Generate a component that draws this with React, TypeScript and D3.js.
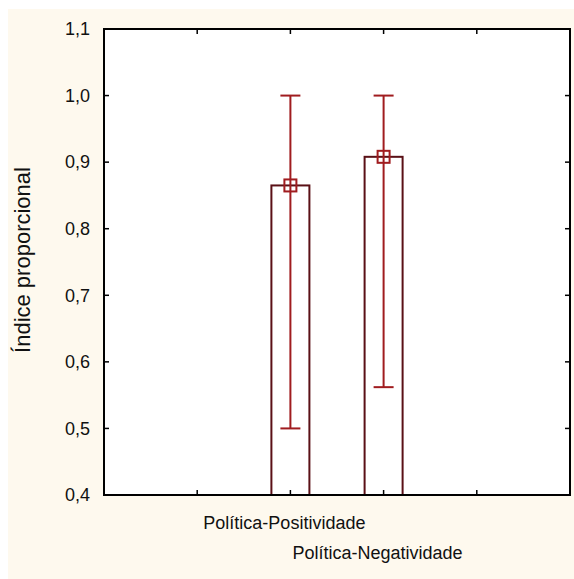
import React, { useEffect, useRef } from "react";
import * as d3 from "d3";

const categories = ["Política-Positividade", "Política-Negatividade"];
const positions = [2, 3];
const means = [0.865, 0.908];
const upper = [1.0, 1.0];
const lower = [0.5, 0.562];
const yTicks = [0.4, 0.5, 0.6, 0.7, 0.8, 0.9, 1.0, 1.1];
const xTicks = [1, 2, 3, 4];

const App = () => {
  const chart = useRef<SVGSVGElement>(null);

  useEffect(() => {
    // page-sized svg, fixed at the top-left corner
    const width = 574;
    const height = 579;
    const left = 104;
    const right = 570;
    const top = 29;
    const bottom = 495;
    const font = "'Liberation Sans', Arial, sans-serif";

    const svg = d3.select(chart.current);
    svg.selectAll("*").remove();
    svg.attr("width", width).attr("height", height);

    const x = d3.scaleLinear().domain([0, 5]).range([left, right]);
    const y = d3.scaleLinear().domain([0.4, 1.1]).range([bottom, top]);
    const fmt = (d: number) => d3.format(".1f")(d).replace(".", ",");

    svg.append("rect").attr("width", width).attr("height", height).attr("fill", "white");
    svg
      .append("rect")
      .attr("x", 8)
      .attr("y", 9)
      .attr("width", width - 8)
      .attr("height", height - 9)
      .attr("fill", "#fef9ee");
    svg
      .append("rect")
      .attr("x", left)
      .attr("y", top)
      .attr("width", right - left)
      .attr("height", bottom - top)
      .attr("fill", "white");

    const data = categories.map((c, i) => ({
      name: c,
      pos: positions[i],
      mean: means[i],
      hi: upper[i],
      lo: lower[i],
    }));

    const barW = 38;
    svg
      .append("g")
      .selectAll("rect")
      .data(data)
      .join("rect")
      .attr("x", (d) => x(d.pos) - barW / 2)
      .attr("y", (d) => y(d.mean))
      .attr("width", barW)
      .attr("height", (d) => bottom - y(d.mean))
      .attr("fill", "white")
      .attr("stroke", "#5a1016")
      .attr("stroke-width", 2);

    const err = svg.append("g").attr("stroke", "#a01c1f").attr("stroke-width", 2).attr("fill", "none");
    err
      .selectAll("line.stem")
      .data(data)
      .join("line")
      .attr("class", "stem")
      .attr("x1", (d) => x(d.pos))
      .attr("x2", (d) => x(d.pos))
      .attr("y1", (d) => y(d.hi))
      .attr("y2", (d) => y(d.lo));
    const capW = 20;
    ["hi", "lo"].forEach((k) => {
      err
        .selectAll("line.cap-" + k)
        .data(data)
        .join("line")
        .attr("class", "cap-" + k)
        .attr("x1", (d) => x(d.pos) - capW / 2)
        .attr("x2", (d) => x(d.pos) + capW / 2)
        .attr("y1", (d: any) => y(d[k]))
        .attr("y2", (d: any) => y(d[k]));
    });
    const m = 12;
    err
      .selectAll("rect")
      .data(data)
      .join("rect")
      .attr("x", (d) => x(d.pos) - m / 2)
      .attr("y", (d) => y(d.mean) - m / 2)
      .attr("width", m)
      .attr("height", m);

    // frame + ticks
    const axes = svg.append("g").attr("stroke", "black");
    axes
      .append("rect")
      .attr("x", left)
      .attr("y", top)
      .attr("width", right - left)
      .attr("height", bottom - top)
      .attr("fill", "none")
      .attr("stroke-width", 2);
    const tl = 5;
    axes
      .selectAll("line.yl")
      .data(yTicks)
      .join("line")
      .attr("class", "yl")
      .attr("x1", left)
      .attr("x2", left + tl)
      .attr("y1", (d) => y(d))
      .attr("y2", (d) => y(d))
      .attr("stroke-width", 1.5);
    axes
      .selectAll("line.yr")
      .data(yTicks)
      .join("line")
      .attr("class", "yr")
      .attr("x1", right)
      .attr("x2", right - tl)
      .attr("y1", (d) => y(d))
      .attr("y2", (d) => y(d))
      .attr("stroke-width", 1.5);
    axes
      .selectAll("line.xb")
      .data(xTicks)
      .join("line")
      .attr("class", "xb")
      .attr("x1", (d) => x(d))
      .attr("x2", (d) => x(d))
      .attr("y1", bottom)
      .attr("y2", bottom - tl)
      .attr("stroke-width", 1.5);
    axes
      .selectAll("line.xt")
      .data(xTicks)
      .join("line")
      .attr("class", "xt")
      .attr("x1", (d) => x(d))
      .attr("x2", (d) => x(d))
      .attr("y1", top)
      .attr("y2", top + tl)
      .attr("stroke-width", 1.5);

    svg
      .append("g")
      .selectAll("text")
      .data(yTicks)
      .join("text")
      .attr("x", left - 14)
      .attr("y", (d) => y(d))
      .attr("dy", "0.35em")
      .attr("text-anchor", "end")
      .attr("font-family", font)
      .attr("font-size", 18)
      .attr("fill", "#111")
      .text((d) => fmt(d));

    svg
      .append("g")
      .selectAll("text")
      .data(data)
      .join("text")
      .attr("x", (d) => x(d.pos) - 6)
      .attr("y", (d, i) => 529 + i * 30)
      .attr("text-anchor", "middle")
      .attr("font-family", font)
      .attr("font-size", 18)
      .attr("fill", "#111")
      .text((d) => d.name);

    svg
      .append("text")
      .attr("transform", "translate(30,260) rotate(-90)")
      .attr("text-anchor", "middle")
      .attr("font-family", font)
      .attr("font-size", 22)
      .attr("fill", "#111")
      .text("Índice proporcional");
  }, []);

  return (
    <div style={{ position: "fixed", left: 0, top: 0, width: 574, height: 579 }}>
      <svg ref={chart} style={{ display: "block" }}></svg>
    </div>
  );
};

export default App;
